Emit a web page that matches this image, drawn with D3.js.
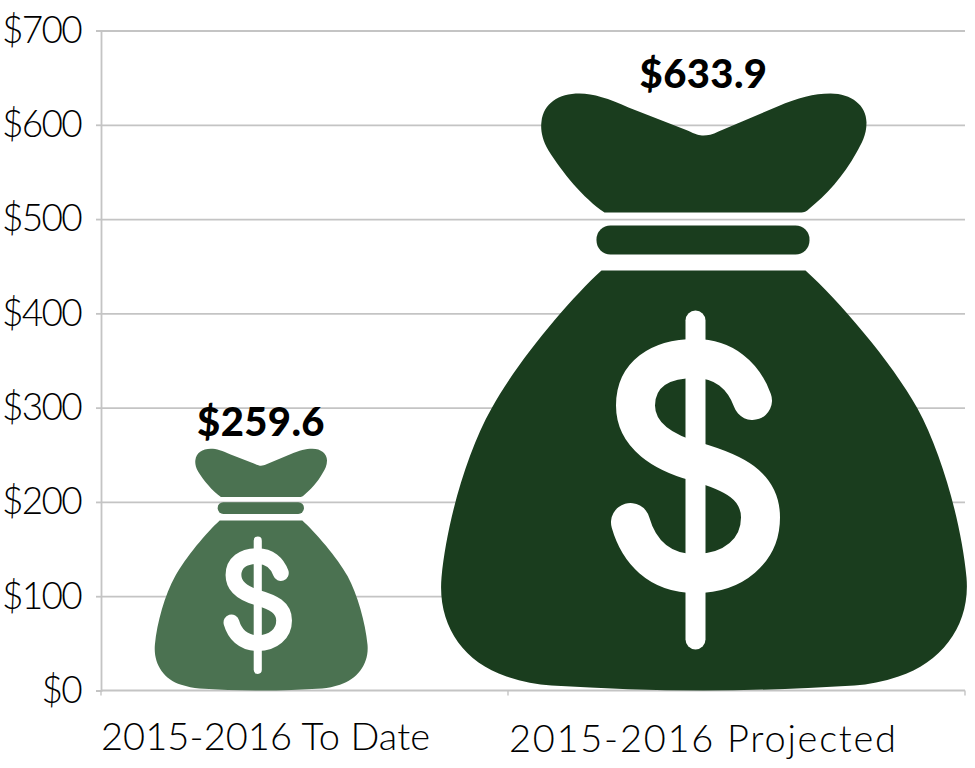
<!DOCTYPE html>
<html><head><meta charset="utf-8">
<script src="https://cdn.jsdelivr.net/npm/d3@7/dist/d3.min.js"></script>
<style>html,body{margin:0;padding:0;background:#fff}svg{display:block}text{font-family:Lato,"Open Sans",sans-serif;fill:#000}</style>
</head><body><svg id="c" width="975" height="768"></svg>
<script>
const categories = ["2015-2016 To Date", "2015-2016 Projected"];
const values = [259.6, 633.9];
const valueLabels = ["$259.6", "$633.9"];
const yTicks = [0, 100, 200, 300, 400, 500, 600, 700];
const bagColors = ["#4b7251", "#1a3d1e"];

const svg = d3.select("#c");
const y = d3.scaleLinear().domain([0, 700]).range([690.5, 30.5]);
const xCenter = d3.scaleOrdinal(categories, [261, 703.5]);
const xLabelStart = d3.scaleOrdinal(categories, [101, 509]);
const xLabelWidth = d3.scaleOrdinal(categories, [329, 387]);
const xEdges = [101, 508, 965];
const bagScale = d3.scaleLinear().domain(values).range([0.405, 1]);

const grid = "#c4c4c4";
const yAxis = d3.axisLeft(y).tickValues(yTicks).tickSize(5).tickPadding(15).tickFormat(d => "$" + d);
const gy = svg.append("g").attr("transform", "translate(101,0)").call(yAxis);
gy.select(".domain").attr("stroke", grid).attr("stroke-width", 1.8);
gy.selectAll(".tick line").attr("stroke", grid).attr("stroke-width", 1.8);
gy.selectAll(".tick text").attr("font-size", 37).attr("font-weight", 300).attr("letter-spacing", -1.7).attr("dy", "0.32em").attr("fill", "#000");
gy.selectAll(".tick").filter(d => d > 0).append("line").attr("x2", 864).attr("stroke", grid).attr("stroke-width", 1.8);

const gx = svg.append("g");
gx.append("line").attr("x1", 101).attr("x2", 965).attr("y1", y(0)).attr("y2", y(0)).attr("stroke", grid).attr("stroke-width", 1.8);
gx.selectAll("line.t").data(xEdges).join("line").attr("class", "t")
  .attr("x1", d => d).attr("x2", d => d).attr("y1", y(0)).attr("y2", y(0) + 5).attr("stroke", grid).attr("stroke-width", 1.4);

const bagTop = "M-99,119C-120,105-142,78-155,57C-162,45-163,35-162,28C-160,10-145,0-124,0C-110,0-95,5-75,14L-16,37C-8,41-4,42 0,42C4,42 9,41 15,38L74,13C95,4 110,0 127,0C148,0 163,12 163,29C163,42 158,50 153,59C140,83 122,102 106,115C103,118 100,119 98,119Z";
const bagBody = "M-102,177L102,177C135,207 188,268 214,315C238,359 258,430 263,484C267,530 240,568 195,583C180,588 165,591 151,592C100,595 50,597 0,597C-50,597-100,595-152,592C-167,591-182,588-197,583C-242,568-266,530-262,484C-257,430-237,359-212,315C-186,268-135,207-102,177Z";
const dollarS = "M49,307C40,282 20,265-8,265C-45,265-68,282-68,312C-68,342-40,359-8,368C30,379 57,392 57,424C57,457 30,480-8,480C-45,480-65,457-73,429";

const bags = svg.selectAll("g.bag").data(categories.map((c, i) => ({c, v: values[i], col: bagColors[i], lab: valueLabels[i]})))
  .join("g").attr("class", "bag")
  .attr("transform", d => `translate(${xCenter(d.c)},${y(0)}) scale(${bagScale(d.v)}) translate(0,-597)`);
bags.append("path").attr("d", bagTop).attr("fill", d => d.col);
bags.append("rect").attr("x", -107).attr("y", 132).attr("width", 213).attr("height", 29).attr("rx", 14).attr("fill", d => d.col);
bags.append("path").attr("d", bagBody).attr("fill", d => d.col);
bags.append("path").attr("d", dollarS).attr("fill", "none").attr("stroke", "#fff").attr("stroke-width", 39).attr("stroke-linecap", "round");
bags.append("line").attr("x1", -8).attr("x2", -8).attr("y1", 227).attr("y2", 546).attr("stroke", "#fff").attr("stroke-width", 20).attr("stroke-linecap", "round");

svg.selectAll("text.val").data(categories).join("text").attr("class", "val")
  .attr("x", d => xCenter(d)).attr("y", (d, i) => y(values[i]) - (i ? 5 : 10))
  .attr("text-anchor", "middle").attr("font-weight", 900).attr("font-size", 40).attr("letter-spacing", 0.4)
  .text((d, i) => valueLabels[i]);

svg.selectAll("text.cat").data(categories).join("text").attr("class", "cat")
  .attr("x", d => xLabelStart(d)).attr("y", (d, i) => i ? 752 : 750)
  .attr("font-size", 38).attr("font-weight", 300).attr("textLength", d => xLabelWidth(d)).attr("lengthAdjust", "spacing")
  .text(d => d);
</script></body></html>
